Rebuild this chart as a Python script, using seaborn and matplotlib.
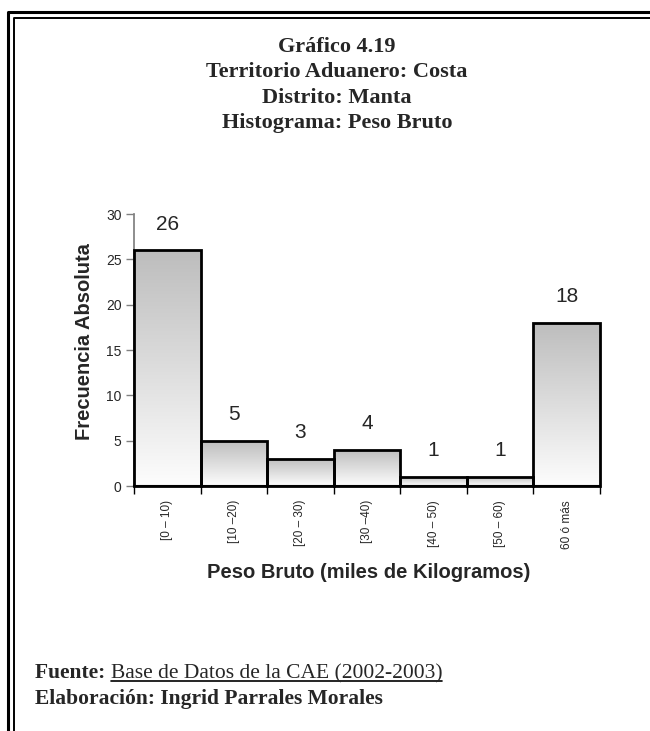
import matplotlib
matplotlib.use("Agg")  # no display, write straight to file
import matplotlib.pyplot as plt
from matplotlib.lines import Line2D
from matplotlib.colors import LinearSegmentedColormap
import seaborn as sns
import numpy as np
import pandas as pd

# data
clases = ["[0 – 10)", "[10 –20)", "[20 – 30)", "[30 –40)", "[40 – 50)", "[50 – 60)", "60 ó más"]
frecuencias = [26, 5, 3, 4, 1, 1, 18]
y_ticks = [0, 5, 10, 15, 20, 25, 30]

titulo = ["Gráfico 4.19", "Territorio Aduanero: Costa", "Distrito: Manta", "Histograma: Peso Bruto"]
fuente = "Base de Datos de la CAE (2002-2003)"
elaboracion = "Elaboración: Ingrid Parrales Morales"

W, H = 650, 731

sns.set_theme(style="white")
plt.rcParams["font.family"] = ["Liberation Sans", "DejaVu Sans"]


def fx(px):
    return px / W


def fy(py):
    return 1 - py / H


fig = plt.figure(figsize=(W / 100, H / 100), dpi=100)
fig.patch.set_facecolor("white")

# double frame (runs off right and bottom edges like the scan)
fig.add_artist(Line2D([fx(8), fx(8), 1.02], [-0.02, fy(12), fy(12)], color="black", lw=2.2, transform=fig.transFigure))
fig.add_artist(Line2D([fx(13.7), fx(13.7), 1.02], [-0.02, fy(17.5), fy(17.5)], color="black", lw=1.4, transform=fig.transFigure))

# title block
serif = ["Liberation Serif", "DejaVu Serif"]
for line, base in zip(titulo, [52, 77, 103, 128]):
    fig.text(fx(337), fy(base), line, ha="center", va="baseline", fontsize=16,
             fontweight="bold", family=serif)

# chart
ax = fig.add_axes([fx(134), fy(486), fx(600) - fx(134), fy(214) - fy(486)])
df = pd.DataFrame({"clase": clases, "frecuencia": frecuencias})
sns.barplot(data=df, x="clase", y="frecuencia", width=1.0, color="white",
            edgecolor="black", linewidth=2, ax=ax, zorder=3)

grad = LinearSegmentedColormap.from_list("gris", ["#fdfdfd", "#bdbdbd"])
g = np.linspace(0, 1, 256).reshape(-1, 1)
for bar in ax.patches:
    x0, w, h = bar.get_x(), bar.get_width(), bar.get_height()
    im = ax.imshow(g, cmap=grad, origin="lower", aspect="auto",
                   extent=[x0, x0 + w, 0, h], zorder=2)
    im.set_clip_path(bar)
    bar.set_facecolor("none")
    bar.set_clip_on(False)

ax.set_xlim(-0.5, len(clases) - 0.5)
ax.set_ylim(0, 30)
ax.set_yticks(y_ticks)
ax.bar_label(ax.containers[0], padding=12, fontsize=15)

ax.set_xlabel("")
ax.set_ylabel("")
ax.tick_params(axis="y", length=6, width=1, color="#808080", labelsize=10, pad=3, left=True)
ax.tick_params(axis="x", which="major", length=0, labelsize=8.5, pad=10, labelrotation=90)
ax.set_xticks(np.arange(-0.5, len(clases)), minor=True)
ax.tick_params(axis="x", which="minor", length=6, width=1, color="black", bottom=True)
for s in ["top", "right"]:
    ax.spines[s].set_visible(False)
ax.spines["left"].set_color("#808080")
ax.spines["bottom"].set_color("black")
ax.spines["bottom"].set_linewidth(1.5)
ax.grid(False)

fig.text(fx(85), fy(342), "Frecuencia Absoluta", rotation=90, ha="center", va="center",
         fontsize=14.5, fontweight="bold")
fig.text(fx(369), fy(573), "Peso Bruto (miles de Kilogramos)", ha="center", va="center",
         fontsize=14.5, fontweight="bold")

# footer
t1 = fig.text(fx(35), fy(678), "Fuente: ", ha="left", va="baseline", fontsize=15.5,
              fontweight="bold", family=serif)
fig.canvas.draw()
bb = t1.get_window_extent()
t2 = fig.text(bb.x1 / W, fy(678), fuente, ha="left", va="baseline", fontsize=15.5, family=serif)
fig.canvas.draw()
bb2 = t2.get_window_extent()
fig.add_artist(Line2D([bb2.x0 / W, bb2.x1 / W], [fy(681), fy(681)], color="black", lw=1.2,
                      transform=fig.transFigure))
fig.text(fx(35), fy(704), elaboracion, ha="left", va="baseline", fontsize=15.5,
         fontweight="bold", family=serif)

fig.savefig("out.png", dpi=100)
